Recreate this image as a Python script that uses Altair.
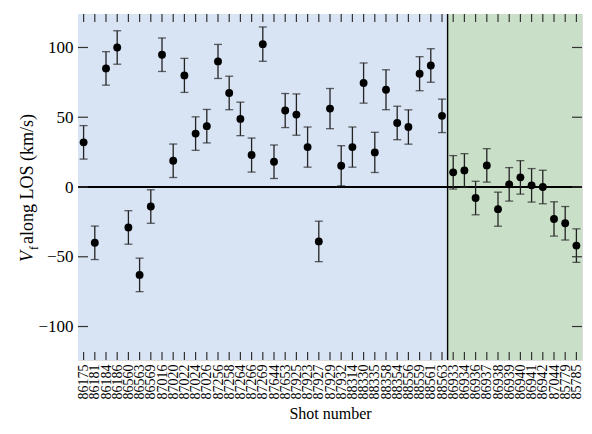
import altair as alt
import pandas as pd

shots = ["86175","86181","86184","86186","86560","86563","86569","87016","87020","87022",
         "87024","87026","87256","87258","87264","87266","87269","87644","87653","87925",
         "87923","87927","87929","87932","88314","88330","88335","88358","88354","88556",
         "88559","88561","88563",
         "86933","86934","86936","86937","86938","86939","86940","86941","86942","87044",
         "85779","85785"]
vf = [32, -40, 85, 100, -29, -63, -14, 94.8, 18.8, 80,
      38.3, 43.6, 90, 67.4, 48.8, 22.9, 102.4, 18.1, 54.8, 51.9,
      28.6, -39, 56.2, 15.2, 28.6, 74.5, 24.8, 69.7, 45.9, 43,
      81.2, 87.1, 51,
      10.5, 11.9, -7.9, 15.5, -15.9, 1.9, 6.9, 1.2, 0, -22.9, -26, -42]
err = [12, 12, 12, 12, 12, 12, 12, 12, 12, 12.2,
       12, 12, 12.2, 12, 12, 12.2, 12.3, 12, 12.2, 14.8,
       14.4, 14.5, 14.4, 14.4, 14.4, 14.4, 14.4, 14.3, 12, 12.3,
       12.2, 12, 12,
       12, 12, 12, 12, 12.2, 12, 12, 12, 12, 12.3, 12, 12]
region_starts = [-0.5, 32.5]
region_ends = [32.5, 44.5]
region_names = ["a", "b"]
region_colors = ["#d8e3f3", "#c9dfc8"]
yticks = [-100, -50, 0, 50, 100]

W, H = 504, 346
FONT = "Liberation Serif"

df = pd.DataFrame({"i": list(range(len(shots))), "shot": shots, "vf": vf, "err": err})
df["lo"] = df["vf"] - df["err"]
df["hi"] = df["vf"] + df["err"]
regions = pd.DataFrame({"x0": region_starts, "x1": region_ends, "name": region_names})
ytk = pd.DataFrame({"v": yticks})
one = pd.DataFrame({"a": [0]})

label_arr = "[" + ",".join('"%s"' % s for s in shots) + "]"
xscale = alt.Scale(domain=[-0.5, len(shots) - 0.5], nice=False, zero=False)
yscale = alt.Scale(domain=[-124, 124], nice=False, zero=False)

xaxis = alt.Axis(values=list(range(len(shots))), labelExpr=label_arr + "[datum.value]",
                 labelAngle=270, labelFont=FONT, labelFontSize=14, labelColor="black",
                 labelPadding=4, ticks=False, domain=False, grid=False,
                 title="Shot number", titleFont=FONT, titleFontSize=16,
                 titleFontWeight="normal", titleColor="black", titlePadding=6,
                 labelOverlap=False, labelBound=False, labelFlush=False,
                 labelAlign="right", labelBaseline="middle")
yaxis = alt.Axis(values=yticks, labelFont=FONT, labelFontSize=17, labelColor="black",
                 ticks=False, domain=False, grid=False, title=None, labelPadding=5,
                 labelOverlap=False)

X = lambda f: alt.X(f, scale=xscale, axis=xaxis)
Y = lambda f: alt.Y(f, scale=yscale, axis=yaxis)

bg = alt.Chart(regions).mark_rect().encode(
    x=X("x0:Q"), x2="x1:Q",
    y=alt.value(0), y2=alt.value(H),
    color=alt.Color("name:N", scale=alt.Scale(domain=region_names, range=region_colors), legend=None),
)

base = alt.Chart(df)
zero_line = alt.Chart(ytk).transform_filter("datum.v == 0").mark_rule(color="black", strokeWidth=2.2).encode(
    y=Y("v:Q"), x=alt.value(0), x2=alt.value(W))
vline = alt.Chart(regions).transform_filter("datum.name == 'b'").mark_rule(color="black", strokeWidth=1.4).encode(
    x=X("x0:Q"), y=alt.value(0), y2=alt.value(H))

bars = base.mark_rule(color="#222222", strokeWidth=1.3).encode(
    x=X("i:Q"), y=Y("lo:Q"), y2="hi:Q")
cap_lo = base.mark_tick(orient="horizontal", color="#222222", size=8, thickness=1.3).encode(
    x=X("i:Q"), y=Y("lo:Q"))
cap_hi = base.mark_tick(orient="horizontal", color="#222222", size=8, thickness=1.3).encode(
    x=X("i:Q"), y=Y("hi:Q"))
pts = base.mark_circle(color="black", opacity=1, size=62).encode(
    x=X("i:Q"), y=Y("vf:Q"))

# inward ticks
tk_top = base.mark_rule(color="#333333", strokeWidth=1.2).encode(
    x=X("i:Q"), y=alt.value(0), y2=alt.value(8))
tk_bot = base.mark_rule(color="#333333", strokeWidth=1.2).encode(
    x=X("i:Q"), y=alt.value(H - 8), y2=alt.value(H))
tk_left = alt.Chart(ytk).mark_rule(color="#333333", strokeWidth=1.2).encode(
    y=Y("v:Q"), x=alt.value(0), x2=alt.value(10))
tk_right = alt.Chart(ytk).mark_rule(color="#333333", strokeWidth=1.2).encode(
    y=Y("v:Q"), x=alt.value(W - 10), x2=alt.value(W))

# y-axis title with subscript
tV = alt.Chart(one).mark_text(text="V", font=FONT, fontSize=18, fontStyle="italic", angle=270,
                              align="left", baseline="alphabetic", color="black").encode(
    x=alt.value(-45), y=alt.value(248))
tf = alt.Chart(one).mark_text(text="f", font=FONT, fontSize=12, angle=270,
                              align="left", baseline="alphabetic", color="black").encode(
    x=alt.value(-40), y=alt.value(236))
tRest = alt.Chart(one).mark_text(text=" along LOS (km/s)", font=FONT, fontSize=18, angle=270,
                                 align="left", baseline="alphabetic", color="black").encode(
    x=alt.value(-45), y=alt.value(230))

chart = alt.layer(bg, zero_line, vline, bars, cap_lo, cap_hi, pts,
                  tk_top, tk_bot, tk_left, tk_right, tV, tf, tRest).properties(
    width=W, height=H,
    autosize=alt.AutoSizeParams(type="none"),
    padding={"left": 70, "top": 6, "right": 2, "bottom": 64},
).configure_view(stroke="#222222", strokeWidth=1.5).configure(background="white")

chart.save("out.html", embed_options={"renderer": "svg", "actions": False})
